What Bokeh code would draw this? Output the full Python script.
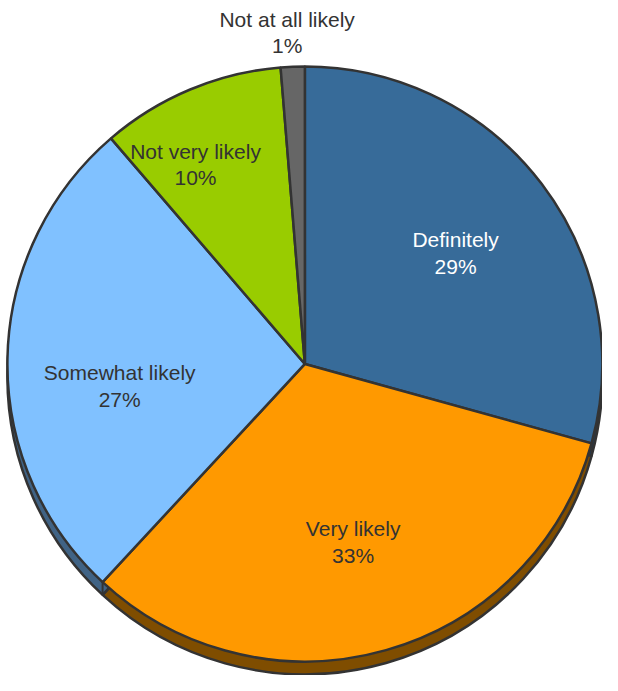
import math
from bokeh.plotting import figure
from bokeh.models import Range1d
from bokeh.core.properties import value
from bokeh.embed import file_html
from bokeh.resources import INLINE

# ---- data ----
categories = ["Definitely", "Very likely", "Somewhat likely", "Not very likely", "Not at all likely"]
shares = [29.3, 32.6, 26.8, 10.0, 1.3]
pct_labels = ["29%", "33%", "27%", "10%", "1%"]

# ---- style ----
colors = ["#376b99", "#ff9900", "#80c1ff", "#99cc00", "#666666"]
shadow_colors = ["#1f3d5a", "#7f4d00", "#406385", "#4d6600", "#333333"]
label_colors = ["#ffffff", "#333333", "#333333", "#333333", "#333333"]
# label anchor points in reference-image pixels (x, name baseline y)
label_pos = [(472, 251), (368, 544), (131, 386), (208, 161), (301, 27)]
line_gap = 27

W, H = 602, 675
SH = 691      # reference image height
S = 0.985     # slight scale so the whole chart fits the window
OX, OY = 10, 8


def sy(y):
    return SH - y


cx, cy, R, depth = 319, sy(377), 302, 13

p = figure(width=W, height=H, output_backend="svg", toolbar_location=None,
           x_range=Range1d(OX, OX + W / S),
           y_range=Range1d(sy(OY + H / S), sy(OY)),
           min_border=0)
p.axis.visible = False
p.grid.visible = False
p.outline_line_color = None
p.background_fill_color = "white"

total = sum(shares)
starts, ends = [], []
cum = 0.0
for s in shares:
    a0 = math.pi / 2 - 2 * math.pi * (cum + s) / total
    a1 = math.pi / 2 - 2 * math.pi * cum / total
    starts.append(a0)
    ends.append(a1)
    cum += s

# extruded side (shadow)
p.wedge(x=cx, y=cy - depth, radius=R, start_angle=starts, end_angle=ends,
        fill_color=shadow_colors, line_color="#333333", line_width=2.5)
# vertical edges of the walls at slice boundaries in lower half
bx0, by0, bx1, by1 = [], [], [], []
for a in starts:
    if math.sin(a) < 0:
        x = cx + R * math.cos(a)
        y = cy + R * math.sin(a)
        bx0.append(x); by0.append(y); bx1.append(x); by1.append(y - depth)
p.segment(x0=bx0, y0=by0, x1=bx1, y1=by1, line_color="#333333", line_width=2)

# top surface
p.wedge(x=cx, y=cy, radius=R, start_angle=starts, end_angle=ends,
        fill_color=colors, line_color="#333333", line_width=2.5)

# labels
for name, pct, col, (lx, ly) in zip(categories, pct_labels, label_colors, label_pos):
    p.text(x=[lx], y=[sy(ly)], text=[name], text_align="center",
           text_baseline="alphabetic", text_color=col,
           text_font=value("Liberation Sans"), text_font_size="21px")
    p.text(x=[lx], y=[sy(ly + line_gap)], text=[pct], text_align="center",
           text_baseline="alphabetic", text_color=col,
           text_font=value("Liberation Sans"), text_font_size="21px")

open("out.html", "w").write(file_html(p, INLINE))
